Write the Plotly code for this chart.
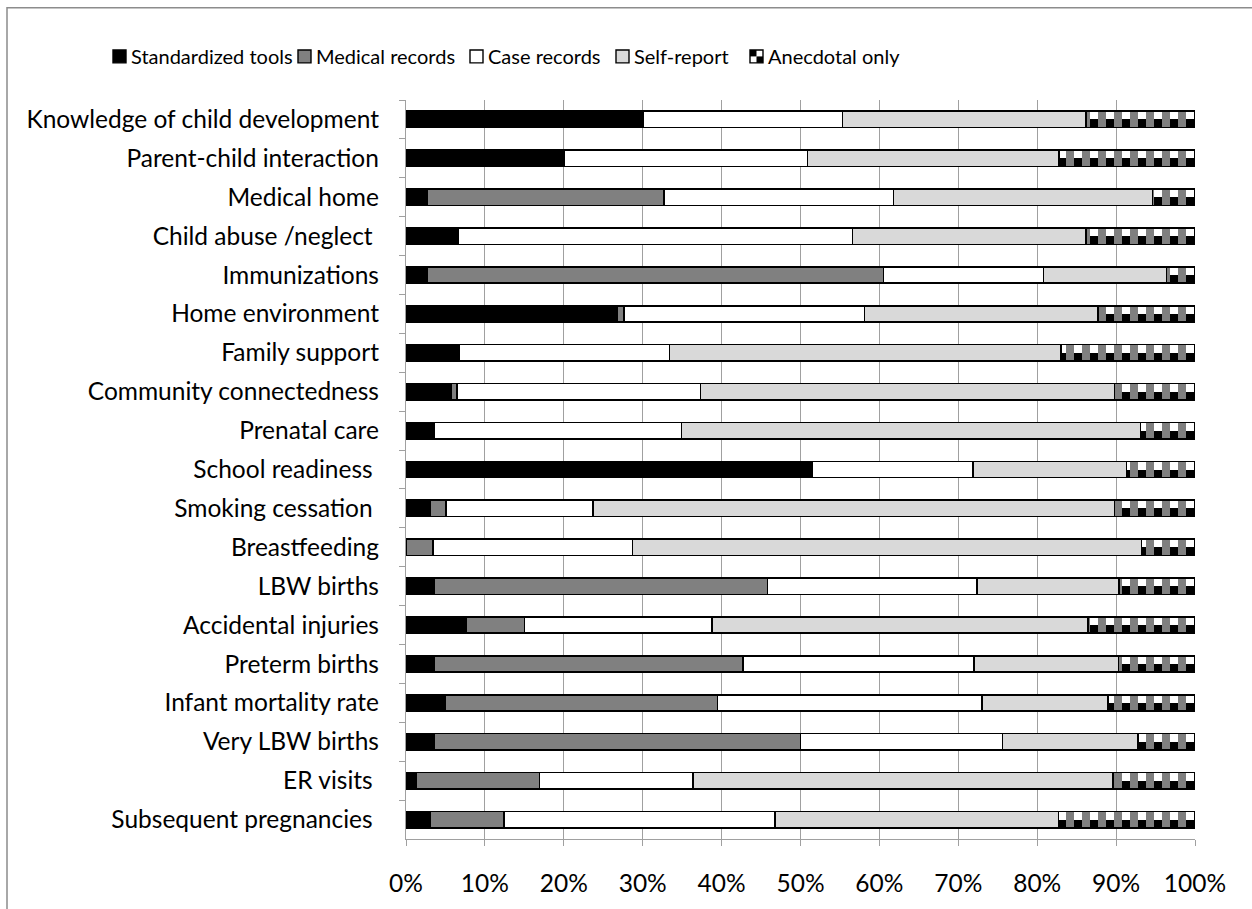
import plotly.graph_objects as go

# Evaluation data source share (%) by outcome area
categories = [
    "Knowledge of child development", "Parent-child interaction", "Medical home",
    "Child abuse /neglect\u00a0", "Immunizations", "Home environment", "Family support",
    "Community connectedness", "Prenatal care", "School readiness\u00a0",
    "Smoking cessation\u00a0", "Breastfeeding", "LBW births", "Accidental injuries",
    "Preterm births", "Infant mortality rate", "Very LBW births", "ER visits\u00a0",
    "Subsequent pregnancies\u00a0",
]
standardized = [30.0, 20.0, 2.7, 6.6, 2.7, 26.8, 6.8, 5.7, 3.6, 51.5, 3.1, 0.0, 3.6, 7.6, 3.6, 5.0, 3.6, 1.3, 3.1]
medical = [0.0, 0.0, 30.0, 0.0, 57.8, 0.8, 0.0, 0.8, 0.0, 0.0, 2.0, 3.4, 42.2, 7.4, 39.1, 34.5, 46.4, 15.6, 9.3]
case_rec = [25.3, 30.9, 29.1, 50.0, 20.3, 30.5, 26.6, 30.8, 31.3, 20.4, 18.6, 25.3, 26.6, 23.8, 29.3, 33.5, 25.6, 19.5, 34.4]
self_report = [30.9, 31.9, 32.8, 29.6, 15.6, 29.6, 49.6, 52.5, 58.2, 19.4, 66.1, 64.5, 18.0, 47.6, 18.3, 16.0, 17.2, 53.2, 35.9]
anecdotal = [13.8, 17.2, 5.4, 13.8, 3.6, 12.3, 17.0, 10.2, 6.9, 8.7, 10.2, 6.8, 9.6, 13.6, 9.7, 11.0, 7.2, 10.4, 17.3]

series_names = ["Standardized tools", "Medical records", "Case records", "Self-report", "Anecdotal only"]
solid_series = [standardized, medical, case_rec, self_report]
solid_colors = ["#000000", "#808080", "#ffffff", "#d9d9d9"]
x_ticks = list(range(0, 101, 10))

W, H = 1252, 909
ML, MR, MT, MB = 406, 57, 100, 63
PW, PH = W - ML - MR, H - MT - MB
FONT = "Lato"
AXIS_FS = 24.5
LEG_FS = 20
BAR_W = 0.42
GRID = "#a0a0a0"


def px_x(px):
    return (px - ML) / PW


def px_y(py):
    return (H - MB - py) / PH


fig = go.Figure()

for name, vals, col in zip(series_names[:4], solid_series, solid_colors):
    fig.add_trace(go.Bar(
        name=name, y=categories, x=vals, orientation="h", width=BAR_W,
        marker=dict(color=col, line=dict(color="#000000", width=1.6)),
        showlegend=False, hoverinfo="x+y",
    ))

# left edge of the anecdotal segment
base_anec = [a + b + c + d for a, b, c, d in zip(*solid_series)]

# checkerboard: two half-height rows of stripes in opposite colours
for off, fg, bg in [(-BAR_W / 2, "#000000", "#ffffff"), (0.0, "#ffffff", "#000000")]:
    fig.add_trace(go.Bar(
        y=categories, x=anecdotal, base=base_anec, orientation="h",
        width=BAR_W / 2, offset=off,
        marker=dict(color="#ffffff", line=dict(width=0),
                    pattern=dict(shape="|", fgcolor=fg, bgcolor=bg, size=16, solidity=0.5)),
        showlegend=False, hoverinfo="skip",
    ))
# outline of the anecdotal segment
fig.add_trace(go.Bar(
    name=series_names[4], y=categories, x=anecdotal, base=base_anec, orientation="h",
    width=BAR_W, marker=dict(color="rgba(0,0,0,0)", line=dict(color="#000000", width=1.6)),
    showlegend=False, hoverinfo="x+y",
))

shapes = []
annotations = []

# outer chart border
shapes.append(dict(type="rect", xref="paper", yref="paper",
                   x0=px_x(7), y0=px_y(H + 20), x1=px_x(W + 20), y1=px_y(7),
                   line=dict(color="#8c8c8c", width=1.5), fillcolor="rgba(0,0,0,0)", layer="below"))

# legend row
leg_x = [113, 298, 470, 616, 750]
leg_y = 56
sym = 13
for i, (name, lx) in enumerate(zip(series_names, leg_x)):
    fill = solid_colors[i] if i < 4 else "#ffffff"
    shapes.append(dict(type="rect", xref="paper", yref="paper",
                       x0=px_x(lx), x1=px_x(lx + sym), y0=px_y(leg_y + sym / 2), y1=px_y(leg_y - sym / 2),
                       fillcolor=fill, line=dict(color="#000000", width=1.4)))
    if i == 4:
        h = sym / 2
        for (cx, cy) in [(0, 0), (1, 1)]:
            shapes.append(dict(type="rect", xref="paper", yref="paper",
                               x0=px_x(lx + cx * h), x1=px_x(lx + (cx + 1) * h),
                               y0=px_y(leg_y - sym / 2 + (cy + 1) * h), y1=px_y(leg_y - sym / 2 + cy * h),
                               fillcolor="#000000", line=dict(width=0)))
    annotations.append(dict(xref="paper", yref="paper", x=px_x(lx + sym + 3), y=px_y(leg_y),
                            xanchor="left", yanchor="middle", showarrow=False, text=name,
                            font=dict(family=FONT, size=LEG_FS, color="#000000")))

fig.update_layout(
    width=W, height=H,
    margin=dict(l=ML, r=MR, t=MT, b=MB, pad=0),
    paper_bgcolor="#ffffff", plot_bgcolor="#ffffff",
    barmode="stack", bargap=0.58,
    font=dict(family=FONT, size=AXIS_FS, color="#000000"),
    shapes=shapes, annotations=annotations, showlegend=False,
    xaxis=dict(range=[0, 100], tickvals=x_ticks, ticktext=[f"{v}%" for v in x_ticks],
               showgrid=True, gridcolor=GRID, gridwidth=1.3, zeroline=False,
               showline=True, linecolor=GRID, linewidth=1.3,
               ticks="outside", ticklen=6, tickcolor=GRID, tickwidth=1.3,
               ticklabelstandoff=16, tickfont=dict(family=FONT, size=AXIS_FS, color="#000000"),
               fixedrange=True),
    yaxis=dict(type="category", categoryorder="array", categoryarray=categories,
               autorange="reversed", showgrid=False, zeroline=False,
               showline=True, linecolor=GRID, linewidth=1.3,
               ticks="outside", tickson="boundaries", ticklen=6, tickcolor=GRID, tickwidth=1.3,
               ticklabelstandoff=21, tickfont=dict(family=FONT, size=AXIS_FS, color="#000000"),
               fixedrange=True),
)

fig.write_html("out.html")
